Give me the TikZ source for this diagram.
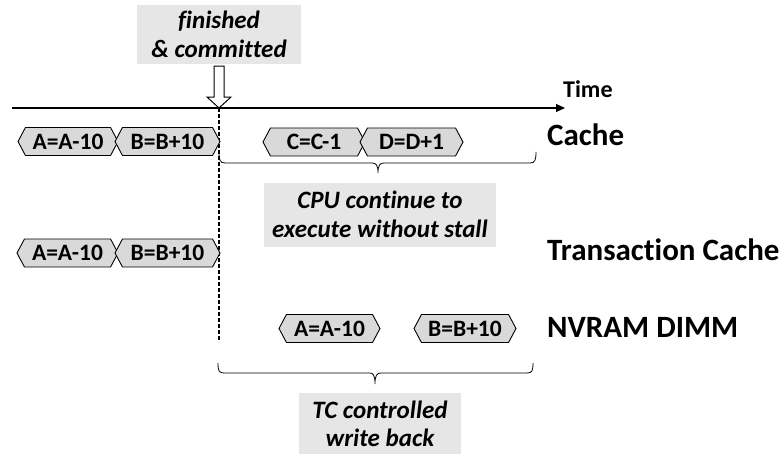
\documentclass[tikz,border=0pt]{standalone}
\usepackage{fontspec}
\setmainfont{Carlito}[Ligatures=NoCommon]
\usetikzlibrary{shapes.symbols,arrows.meta}
\definecolor{blockgray}{HTML}{D9D9D9}
\definecolor{notegray}{HTML}{E6E6E6}
\begin{document}
\begin{tikzpicture}[x=1pt,y=-1pt,
  blk/.style={shape=signal, signal to=west and east, signal pointer angle=124,
    draw, line width=0.9pt, fill=blockgray, inner sep=0pt, minimum height=28,
    font=\fontsize{23.5}{26}\selectfont\bfseries},
  rowlabel/.style={anchor=base west, inner sep=0pt, font=\fontsize{31}{34}\selectfont\bfseries},
  note/.style={fill=notegray, inner sep=0pt, align=center,
    font=\fontsize{25}{28.5}\selectfont\bfseries\itshape},
  brc/.style={line width=0.8pt}]
\useasboundingbox (0,0) rectangle (781,453);

% time axis
\coordinate (t0) at (12,108);
\coordinate (t1) at (565,108);
\draw[line width=1.2pt, -{Triangle[length=9pt,width=8pt]}] (t0) -- (t1);
\node[anchor=base west, inner sep=0pt, font=\fontsize{24}{27}\selectfont\bfseries] (time) at (563,97) {Time};

% commit point
\node[note, minimum width=164, minimum height=59] (fin) at (219,34.5) {finished\\\& committed};
\coordinate (c) at (219,108);
\draw[line width=1pt, fill=white]
  ([xshift=-5]fin.south |- 0,66) -- ++(0,31) -- ++(-7,0) -- (c) -- ++(12,-11) -- ++(-7,0) -- ++(0,-31) -- cycle;
\coordinate (d1) at (219,342);
\draw[dashed, dash pattern=on 4pt off 2pt, line width=1.1pt] (c) -- (d1);

% Cache row
\node[blk, minimum width=100] (ca) at (68,141.5) {A=A-10};
\node[blk, minimum width=105] (cb) at (167.5,141.5) {B=B+10};
\node[blk, minimum width=102] (cc) at (314,142) {C=C-1};
\node[blk, minimum width=103] (cd) at (411.5,142) {D=D+1};
\node[rowlabel] (lc) at (547,145) {Cache};

% Transaction Cache row
\node[blk, minimum width=101] (ta) at (67.5,253) {A=A-10};
\node[blk, minimum width=105] (tb) at (167.5,253) {B=B+10};
\node[rowlabel] (lt) at (547,260) {Transaction Cache};

% NVRAM row
\node[blk, minimum width=101] (na) at (329.5,328.5) {A=A-10};
\node[blk, minimum width=102] (nb) at (465,328.5) {B=B+10};
\node[rowlabel] (ln) at (547,337) {NVRAM DIMM};

% brace over the time the CPU keeps running
\coordinate (b1l) at (219,152);
\coordinate (b1r) at (536,152);
\draw[brc] (b1l) .. controls (219,160) and (220,163) .. (225,163) -- (372,163)
  .. controls (376,163) and (378,165) .. (378,173)
  .. controls (378,165) and (380,163) .. (384,163) -- (530,163)
  .. controls (535,163) and (536,160) .. (b1r);
\node[note, minimum width=232, minimum height=64] (cpu) at (380,214.5) {CPU continue to\\execute without stall};

% brace over the write-back period
\coordinate (b2l) at (218,363);
\coordinate (b2r) at (533,363);
\draw[brc] (b2l) .. controls (218,371) and (219,373) .. (224,373) -- (370,373)
  .. controls (373,373) and (375,375) .. (375,384)
  .. controls (375,375) and (377,373) .. (381,373) -- (527,373)
  .. controls (532,373) and (533,371) .. (b2r);
\node[note, minimum width=162, minimum height=62] (tc) at (380,424) {TC controlled\\write back};
\end{tikzpicture}
\end{document}
